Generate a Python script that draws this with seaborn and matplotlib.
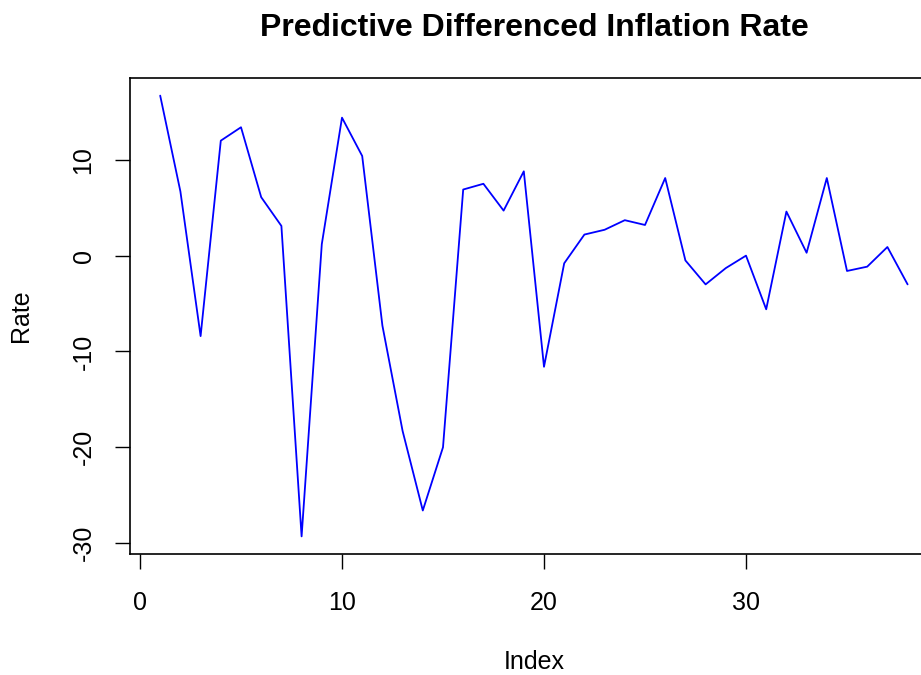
import matplotlib
matplotlib.use("Agg")
import matplotlib.pyplot as plt
import seaborn as sns
import pandas as pd

index = list(range(1, 39))
rate = [16.7, 6.7, -8.4, 12.0, 13.4, 6.1, 3.1, -29.3, 1.2, 14.4,
        10.4, -7.3, -18.3, -26.6, -20.0, 6.9, 7.5, 4.7, 8.8, -11.6,
        -0.8, 2.2, 2.7, 3.7, 3.2, 8.1, -0.5, -3.0, -1.3, 0.0,
        -5.6, 4.6, 0.3, 8.1, -1.6, -1.15, 0.9, -3.0]
x_ticks = [0, 10, 20, 30]
y_ticks = [-30, -20, -10, 0, 10]
title = "Predictive Differenced Inflation Rate"

df = pd.DataFrame({"Index": index, "Rate": rate})

sns.set_style("white")
plt.rcParams["font.family"] = ["Liberation Sans", "DejaVu Sans"]
plt.rcParams["axes.unicode_minus"] = False
plt.rcParams["text.color"] = "black"
plt.rcParams["axes.labelcolor"] = "black"
plt.rcParams["xtick.color"] = "black"
plt.rcParams["ytick.color"] = "black"

fig = plt.figure(figsize=(9.21, 6.75), dpi=100)
ax = fig.add_axes([130.3 / 921, 1 - 554 / 675, (937.5 - 130.3) / 921, (554 - 78) / 675])

sns.lineplot(data=df, x="Index", y="Rate", color="#0000FF", linewidth=1.3, ax=ax)

xmin, xmax = min(index), max(index)
ymin, ymax = min(rate), max(rate)
ax.set_xlim(xmin - 0.04 * (xmax - xmin), xmax + 0.04 * (xmax - xmin))
ax.set_ylim(ymin - 0.04 * (ymax - ymin), ymax + 0.04 * (ymax - ymin))

ax.set_xticks(x_ticks)
ax.set_yticks(y_ticks)
ax.tick_params(axis="both", direction="out", length=11, width=1, colors="black",
               labelsize=18, left=True, bottom=True)
ax.tick_params(axis="x", pad=16)
ax.tick_params(axis="y", pad=14)
for lab in ax.get_yticklabels():
    lab.set_rotation(90)
    lab.set_va("center")
    lab.set_ha("right")

for s in ax.spines.values():
    s.set_visible(True)
    s.set_color("black")
    s.set_linewidth(1.2)

ax.set_xlabel("Index", fontsize=18, labelpad=25, color="black")
ax.set_ylabel("Rate", fontsize=18, labelpad=28, color="black")
ax.set_title(title, fontsize=23, fontweight="bold", pad=30.5, color="black")

fig.savefig("out.png", dpi=100)
